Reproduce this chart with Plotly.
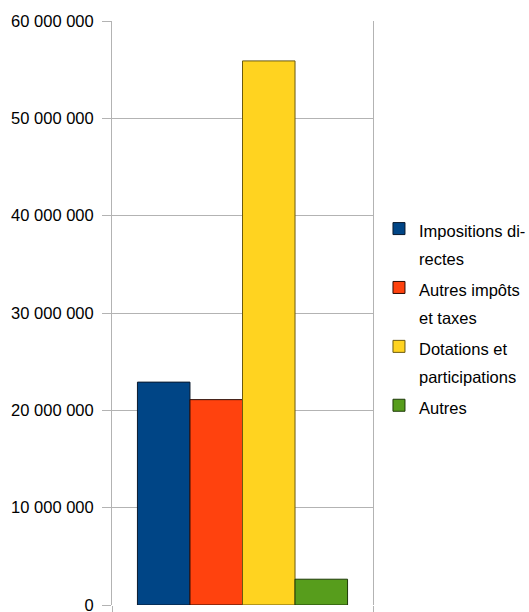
import plotly.graph_objects as go

categories = [""]
series_names = ["Impositions di-<br>rectes", "Autres impôts<br>et taxes", "Dotations et<br>participations", "Autres"]
series_values = [22900000, 21100000, 55900000, 2650000]
series_colors = ["#004586", "#ff420e", "#ffd320", "#579d1c"]
border_colors = ["#0a1a2e", "#2e0c04", "#6b5a10", "#1e3a08"]
y_tick_values = [0, 10000000, 20000000, 30000000, 40000000, 50000000, 60000000]

fig = go.Figure()
for name, val, col, bc in zip(series_names, series_values, series_colors, border_colors):
    fig.add_trace(go.Bar(
        x=categories, y=[val],
        name='<span style="font-size:16.5px">' + name + '</span>',
        marker=dict(color=col, line=dict(color=bc, width=1)),
    ))

grid = "#b3b3b3"
fig.update_layout(
    width=529, height=612,
    margin=dict(l=112, r=156, t=21, b=7, autoexpand=False),
    paper_bgcolor="white", plot_bgcolor="white",
    barmode="group", bargap=0.195, bargroupgap=0,
    separators=", ",
    font=dict(family="Liberation Sans, Arial, sans-serif", size=16, color="black"),
    legend=dict(
        xref="container", x=0.7164, xanchor="left",
        y=0.493, yanchor="middle",
        valign="top", itemwidth=30, bgcolor="rgba(0,0,0,0)",
        font=dict(size=21.5),
        tracegroupgap=0,
    ),
    xaxis=dict(
        type="category", tickson="boundaries", ticks="outside", ticklen=7,
        tickcolor=grid, showticklabels=False, showgrid=True, gridcolor=grid,
        showline=False, zeroline=False, automargin=False,
    ),
    yaxis=dict(
        range=[0, 60000000], tickvals=y_tick_values, tickformat=",d",
        ticks="outside", ticklen=9, tickcolor=grid, ticklabelstandoff=5,
        ticklabeloverflow="allow",
        showgrid=True, gridcolor=grid, gridwidth=1,
        showline=True, linecolor=grid, mirror=True, zeroline=False,
        tickfont=dict(size=16.5), automargin=False,
    ),
)

fig.write_html("out.html")
